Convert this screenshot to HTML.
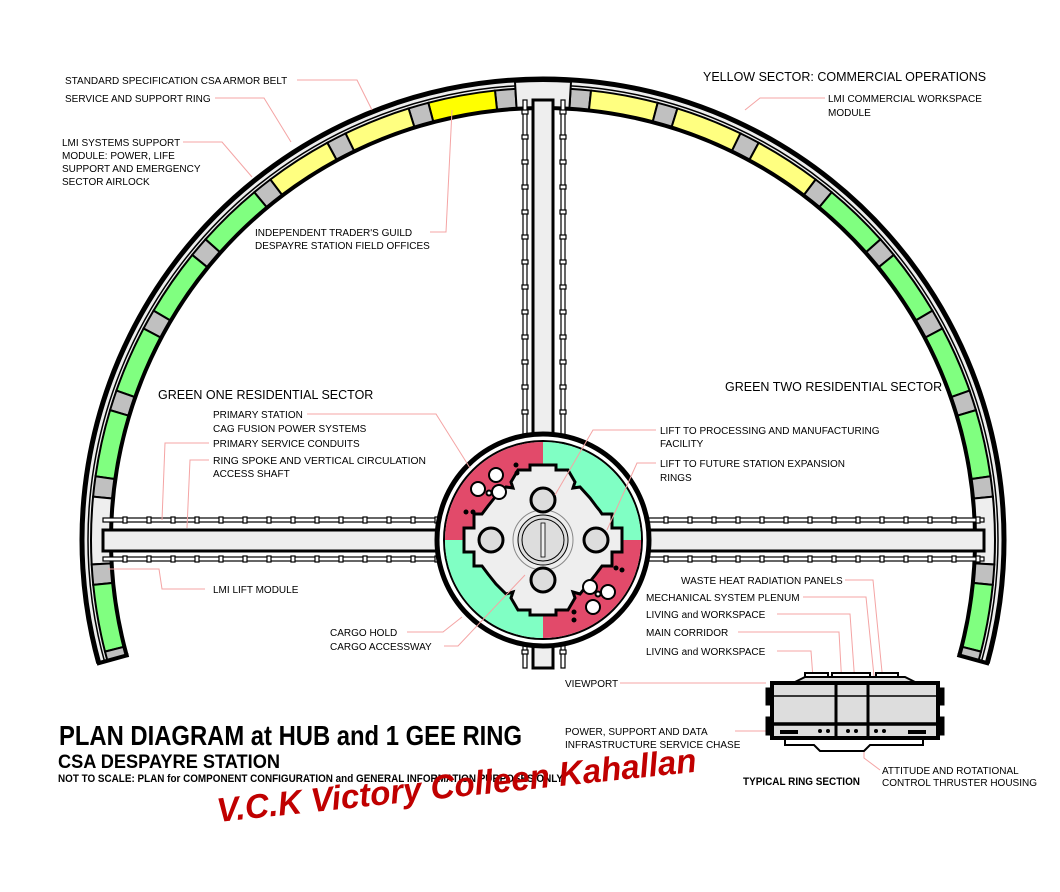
<!DOCTYPE html>
<html><head><meta charset="utf-8"><style>
html,body{margin:0;padding:0;background:#fff;overflow:hidden;}
svg{display:block;}
.t{font-family:"Liberation Sans",sans-serif;font-size:10px;fill:#000;}
.h{font-family:"Liberation Sans",sans-serif;font-size:12.5px;fill:#000;}
.ld{fill:none;stroke:#f4a4a4;stroke-width:1;}
</style></head><body>
<svg id="s" width="1060" height="892" viewBox="0 0 1060 892" xmlns="http://www.w3.org/2000/svg">
<g id="ring"></g>
<g id="spokes"></g>
<g id="hub">
  <circle cx="543" cy="540" r="106" fill="#fff" stroke="#000" stroke-width="5"/>
  <circle cx="543" cy="540" r="99" fill="none" stroke="#000" stroke-width="2"/>
  <path d="M543 540 L543 442 A98 98 0 0 0 445 540 Z" fill="#e24a6a"/>
  <path d="M543 540 L641 540 A98 98 0 0 0 543 442 Z" fill="#80ffc4"/>
  <path d="M543 540 L445 540 A98 98 0 0 0 543 638 Z" fill="#80ffc4"/>
  <path d="M543 540 L543 638 A98 98 0 0 0 641 540 Z" fill="#e24a6a"/>
  <polygon points="530,465 556,465 556,470 568,470 575,482 573,488 580,487 590,498 596,506 600,511 602,514 612,514 612,528 622,528 622,552 612,552 612,566 602,566 596,574 588,584 580,594 573,592 575,598 568,610 556,610 556,615 530,615 530,610 518,610 511,598 513,592 506,594 496,584 488,574 482,566 474,566 474,552 464,552 464,528 474,528 474,514 482,514 488,506 496,496 506,487 513,488 511,482 518,470 530,470" fill="#eee" stroke="#000" stroke-width="3" stroke-linejoin="miter"/>
  <circle cx="543" cy="540" r="30" fill="#eee" stroke="#888" stroke-width="1"/>
  <circle cx="543" cy="540" r="25" fill="#ddd" stroke="#000" stroke-width="1"/>
  <circle cx="543" cy="540" r="21" fill="#ddd" stroke="#000" stroke-width="1"/>
  <rect x="541" y="523" width="4" height="34" fill="#eee" stroke="#000" stroke-width="0.8"/>
  <g fill="#ddd" stroke="#000" stroke-width="3">
    <circle cx="543" cy="500" r="12"/><circle cx="543" cy="580" r="12"/>
    <circle cx="491" cy="540" r="12"/><circle cx="596" cy="540" r="12"/>
  </g>
  <g fill="#fff" stroke="#000" stroke-width="2">
    <circle cx="496" cy="475" r="7"/><circle cx="478" cy="489" r="7"/><circle cx="499" cy="492" r="7"/><circle cx="489" cy="493" r="2.5"/>
    <circle cx="590" cy="587" r="7"/><circle cx="608" cy="592" r="7"/><circle cx="593" cy="607" r="7"/><circle cx="598" cy="594" r="2.5"/>
  </g>
  <g fill="#000">
    <circle cx="516" cy="465" r="2.5"/><circle cx="517" cy="473" r="2.5"/><circle cx="466" cy="512" r="2.5"/><circle cx="473" cy="512" r="2.5"/>
    <circle cx="622" cy="570" r="2.5"/><circle cx="616" cy="568" r="2.5"/><circle cx="574" cy="612" r="2.5"/><circle cx="574" cy="620" r="2.5"/>
  </g>
</g>
<g id="leaders">
  <path class="ld" d="M297 80 H357 L372 110"/>
  <path class="ld" d="M215 98 H264 L291 142"/>
  <path class="ld" d="M183 142 H222 L252 177"/>
  <path class="ld" d="M430 232 H446 L452 110"/>
  <path class="ld" d="M825 98 H760 L745 110"/>
  <path class="ld" d="M307 414 H436 L470 468"/>
  <path class="ld" d="M209 443 H165 L162 520"/>
  <path class="ld" d="M209 460 H190 L187 528"/>
  <path class="ld" d="M205 589 H162 L159 569 H108"/>
  <path class="ld" d="M407 632 H443 L462 617"/>
  <path class="ld" d="M444 646 H458 L525 575"/>
  <path class="ld" d="M656 430 H593 L555 495"/>
  <path class="ld" d="M656 463 H637 L607 530"/>
  <path class="ld" d="M845 580 H873 L882 672"/>
  <path class="ld" d="M803 597 H866 L875 686"/>
  <path class="ld" d="M777 614 H850 L857 712"/>
  <path class="ld" d="M738 632 H839 L842 686"/>
  <path class="ld" d="M777 651 H811 L814 692"/>
  <path class="ld" d="M620 683 H766"/>
  <path class="ld" d="M735 731 H766"/>
  <path class="ld" d="M880 770 L864 758 L864 750"/>
</g>
<g id="section" stroke="#000">
  <rect x="805" y="673" width="23" height="9" fill="#fff" stroke-width="2"/>
  <rect x="832" y="673" width="38" height="9" fill="#fff" stroke-width="2"/>
  <rect x="876" y="673" width="22" height="9" fill="#fff" stroke-width="2"/>
  <polygon points="793,683 805,677 905,677 917,683" fill="#ddd" stroke-width="2"/>
  <rect x="772" y="683" width="166" height="55" fill="#ddd" stroke-width="4"/>
  <rect x="766" y="688" width="6" height="17" fill="#000"/>
  <rect x="766" y="717" width="6" height="18" fill="#000"/>
  <rect x="938" y="688" width="6" height="17" fill="#000"/>
  <rect x="938" y="717" width="6" height="18" fill="#000"/>
  <line x1="772" y1="696" x2="938" y2="696" stroke-width="1.5"/>
  <line x1="772" y1="724" x2="938" y2="724" stroke-width="3.5"/>
  <line x1="836" y1="683" x2="836" y2="738" stroke-width="3"/>
  <line x1="868" y1="683" x2="868" y2="738" stroke-width="3"/>
  <polygon points="785,739 923,739 923,745 870,745 864,751 820,751 814,745 785,745" fill="#fff" stroke-width="2"/>
  <rect x="780" y="730" width="18" height="4" fill="#000" stroke="none"/>
  <rect x="908" y="730" width="18" height="4" fill="#000" stroke="none"/>
  <g fill="#000" stroke="none"><circle cx="820" cy="731" r="2"/><circle cx="828" cy="731" r="2"/><circle cx="848" cy="731" r="2"/><circle cx="856" cy="731" r="2"/><circle cx="876" cy="731" r="2"/><circle cx="884" cy="731" r="2"/></g>
</g>
<g id="labels">
  <text class="t" x="65" y="84">STANDARD SPECIFICATION CSA ARMOR BELT</text>
  <text class="t" x="65" y="102">SERVICE AND SUPPORT RING</text>
  <text class="t" x="62" y="146">LMI SYSTEMS SUPPORT</text>
  <text class="t" x="62" y="159">MODULE: POWER, LIFE</text>
  <text class="t" x="62" y="172">SUPPORT AND EMERGENCY</text>
  <text class="t" x="62" y="185">SECTOR AIRLOCK</text>
  <text class="t" x="255" y="236">INDEPENDENT TRADER'S GUILD</text>
  <text class="t" x="255" y="249">DESPAYRE STATION FIELD OFFICES</text>
  <text class="h" x="703" y="81">YELLOW SECTOR: COMMERCIAL OPERATIONS</text>
  <text class="t" x="828" y="102">LMI COMMERCIAL WORKSPACE</text>
  <text class="t" x="828" y="116">MODULE</text>
  <text class="h" x="158" y="399">GREEN ONE RESIDENTIAL SECTOR</text>
  <text class="h" x="725" y="391">GREEN TWO RESIDENTIAL SECTOR</text>
  <text class="t" x="213" y="418">PRIMARY STATION</text>
  <text class="t" x="213" y="432">CAG FUSION POWER SYSTEMS</text>
  <text class="t" x="213" y="447">PRIMARY SERVICE CONDUITS</text>
  <text class="t" x="213" y="464" textLength="213" lengthAdjust="spacingAndGlyphs">RING SPOKE AND VERTICAL CIRCULATION</text>
  <text class="t" x="213" y="477">ACCESS SHAFT</text>
  <text class="t" x="213" y="593">LMI LIFT MODULE</text>
  <text class="t" x="330" y="636">CARGO HOLD</text>
  <text class="t" x="330" y="650">CARGO ACCESSWAY</text>
  <text class="t" x="660" y="434">LIFT TO PROCESSING AND MANUFACTURING</text>
  <text class="t" x="660" y="447">FACILITY</text>
  <text class="t" x="660" y="467">LIFT TO FUTURE STATION EXPANSION</text>
  <text class="t" x="660" y="481">RINGS</text>
  <text class="t" x="681" y="584">WASTE HEAT RADIATION PANELS</text>
  <text class="t" x="646" y="601">MECHANICAL SYSTEM PLENUM</text>
  <text class="t" x="646" y="618">LIVING and WORKSPACE</text>
  <text class="t" x="646" y="636">MAIN CORRIDOR</text>
  <text class="t" x="646" y="655">LIVING and WORKSPACE</text>
  <text class="t" x="565" y="687">VIEWPORT</text>
  <text class="t" x="565" y="735">POWER, SUPPORT AND DATA</text>
  <text class="t" x="565" y="748">INFRASTRUCTURE SERVICE CHASE</text>
  <text class="t" x="882" y="774">ATTITUDE AND ROTATIONAL</text>
  <text class="t" x="882" y="786">CONTROL THRUSTER HOUSING</text>
  <text x="743" y="785" textLength="117" lengthAdjust="spacingAndGlyphs" style="font-family:'Liberation Sans',sans-serif;font-weight:bold;font-size:11px">TYPICAL RING SECTION</text>
  <text x="59" y="745" textLength="463" lengthAdjust="spacingAndGlyphs" style="font-family:'Liberation Sans',sans-serif;font-weight:bold;font-size:28px">PLAN DIAGRAM at HUB and 1 GEE RING</text>
  <text x="58" y="768" textLength="222" lengthAdjust="spacingAndGlyphs" style="font-family:'Liberation Sans',sans-serif;font-weight:bold;font-size:19px">CSA DESPAYRE STATION</text>
  <text x="58" y="782" textLength="505" lengthAdjust="spacingAndGlyphs" style="font-family:'Liberation Sans',sans-serif;font-weight:bold;font-size:11px">NOT TO SCALE: PLAN for COMPONENT CONFIGURATION and GENERAL INFORMATION PURPOSES ONLY</text>
  <text x="218" y="822" transform="rotate(-6 218 822)" textLength="482" lengthAdjust="spacingAndGlyphs" style="font-family:'Liberation Sans',sans-serif;font-weight:bold;font-style:italic;font-size:34px;fill:#c00000">V.C.K Victory Colleen Kahallan</text>
</g>
</svg>
<script>
(function(){
var NS="http://www.w3.org/2000/svg",cx=543,cy=540;
function P(r,a){a=a*Math.PI/180;return [cx+r*Math.sin(a),cy-r*Math.cos(a)];}
function sector(r1,r2,a1,a2,fill,sw){
 var p1=P(r2,a1),p2=P(r2,a2),p3=P(r1,a2),p4=P(r1,a1);
 var la=Math.abs(a2-a1)>180?1:0, sw1=a2>a1?1:0, sw2=1-sw1;
 var d="M"+p1+" A"+r2+" "+r2+" 0 "+la+" "+sw1+" "+p2+" L"+p3+" A"+r1+" "+r1+" 0 "+la+" "+sw2+" "+p4+"Z";
 var e=document.createElementNS(NS,"path");e.setAttribute("d",d);e.setAttribute("fill",fill);
 if(sw){e.setAttribute("stroke","#000");e.setAttribute("stroke-width",sw);}return e;}
function arc(r,a1,a2,w){var p1=P(r,a1),p2=P(r,a2);var e=document.createElementNS(NS,"path");
 e.setAttribute("d","M"+p1+" A"+r+" "+r+" 0 1 1 "+p2);e.setAttribute("fill","none");e.setAttribute("stroke","#000");e.setAttribute("stroke-width",w);return e;}
var g=document.getElementById("ring"),A=105.5;
g.appendChild(sector(432,461,-A,A,"#eee",0));
g.appendChild(arc(461,-A,A,5));
g.appendChild(arc(455,-A,A,1.5));
g.appendChild(arc(432,-A,A,4));
[1,-1].forEach(function(s){
 for(var k=0;k<18;k++){
  var c=4.8+11.2*k; if(c-1.3>=A)break;
  var g1=c-1.3,g2=Math.min(c+1.3,A);
  g.appendChild(sector(433,452,s*g1,s*g2,"#c0c0c0",2));
  var m1=g2,m2=Math.min(c+11.2-1.3,A);
  if(m2-m1>0.5){
   var col=k>=3?"#80ff80":(k==0&&s==-1?"#ffff00":"#ffff80");
   if(k==7) col="#eeeeee";
   g.appendChild(sector(433,452,s*m1,s*m2,col,2));
  }
 }
 var p1=P(430,s*A),p2=P(463,s*A);
 var l=document.createElementNS(NS,"line");l.setAttribute("x1",p1[0]);l.setAttribute("y1",p1[1]);l.setAttribute("x2",p2[0]);l.setAttribute("y2",p2[1]);l.setAttribute("stroke","#000");l.setAttribute("stroke-width",4);g.appendChild(l);
});
g.appendChild(sector(433,459,-3.5,3.5,"#eee",2));
var sp=document.getElementById("spokes");
function rect(x,y,w,h,f,sw,st){var e=document.createElementNS(NS,"rect");e.setAttribute("x",x);e.setAttribute("y",y);e.setAttribute("width",w);e.setAttribute("height",h);e.setAttribute("fill",f);if(sw){e.setAttribute("stroke",st||"#000");e.setAttribute("stroke-width",sw);}sp.appendChild(e);}
function ladderV(y1,y2){
 [523,561].forEach(function(x){rect(x,y1,4,y2-y1,"#fff",1.2);for(var y=y1+10;y<y2;y+=25)rect(x-1,y,6,4,"#fff",1.2);});
 rect(533,y1,20,y2-y1,"#eee",3);}
function ladderH(x1,x2){
 [518,557].forEach(function(y){rect(x1,y,x2-x1,4,"#fff",1.2);for(var x=x1+20;x<x2;x+=24)rect(x,y-1,4,6,"#fff",1.2);});
 rect(x1,530,x2-x1,21,"#eee",3);}
ladderV(100,440); ladderV(640,668);
ladderH(103,442); ladderH(644,984);
})();
</script>
</body></html>
